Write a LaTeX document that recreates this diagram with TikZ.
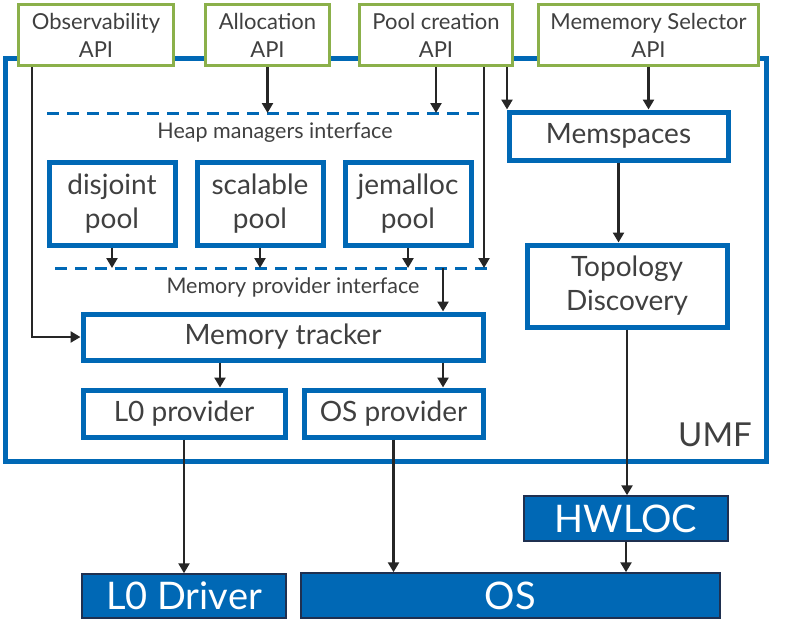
\documentclass[tikz,border=0pt]{standalone}
\usepackage{fontspec}
\setmainfont{Lato}
\usetikzlibrary{arrows.meta}
\definecolor{umfblue}{HTML}{0068B5}
\definecolor{apigreen}{HTML}{8BB04A}
\definecolor{txtgray}{HTML}{404040}
\definecolor{arrowcol}{HTML}{262626}
\definecolor{navyedge}{HTML}{1F3050}
\begin{document}
\begin{tikzpicture}[x=1pt,y=-1pt,
  bluebox/.style={draw=umfblue, line width=5pt, fill=white, text=txtgray, font=\fontsize{28}{34}\selectfont, align=center, inner sep=0pt},
  apibox/.style={draw=apigreen, line width=3.5pt, fill=white, text=txtgray, font=\fontsize{22}{28}\selectfont, align=center, inner sep=0pt},
  solidbox/.style={draw=navyedge, line width=1.5pt, fill=umfblue, text=white, font=\fontsize{38}{40}\selectfont, inner sep=0pt},
  arrow/.style={draw=arrowcol, line width=2.5pt, -{Triangle[length=10pt,width=11pt]}},
  iface/.style={draw=umfblue, line width=3pt, dash pattern=on 12pt off 8pt},
  lbl/.style={text=txtgray, font=\fontsize{21.5}{24}\selectfont, inner sep=0pt}]
\useasboundingbox (0,0) rectangle (805,642);
% UMF container
\node[draw=umfblue, line width=5pt, minimum width=761pt, minimum height=402pt, inner sep=0pt] (umf) at (385.5,260) {};
\node[lbl, font=\fontsize{33}{33}\selectfont, anchor=east] (umflab) at (752,435) {UMF};
% interface lines
\coordinate (hl) at (47,113); \coordinate (hr) at (480,113);
\coordinate (pl) at (55,268); \coordinate (pr) at (487,268);
\draw[iface] (hl) -- (hr);
\draw[iface] (pl) -- (pr);
\node[lbl] (hlab) at (275,133) {Heap managers interface};
\node[lbl] (plab) at (293,287) {Memory provider interface};
% column coordinates
\coordinate (cObs) at (32,0);
\coordinate (cPoolB) at (484,0);
\coordinate (cPoolC) at (507,0);
\coordinate (cTa) at (220,0);
\coordinate (cTb) at (443,0);
% API boxes
\node[apibox, minimum width=155pt, minimum height=61pt] (obs) at (96,35) {Observability\\API};
\node[apibox, minimum width=124pt, minimum height=61pt] (alloc) at (267.5,35) {Allocation\\API};
\node[apibox, minimum width=153pt, minimum height=61pt] (pool) at (436,35) {Pool creation\\API};
\node[apibox, minimum width=220pt, minimum height=61pt] (memsel) at (648.5,35) {Mememory Selector\\API};
% pools
\node[bluebox, minimum width=126pt, minimum height=83pt] (disjoint) at (112,203.5) {disjoint\\pool};
\node[bluebox, minimum width=126pt, minimum height=83pt] (scalable) at (260,203.5) {scalable\\pool};
\node[bluebox, minimum width=126pt, minimum height=83pt] (jemalloc) at (408,203.5) {jemalloc\\pool};
% tracker and providers
\node[bluebox, minimum width=400pt, minimum height=46pt] (tracker) at (283,337) {Memory tracker};
\node[bluebox, minimum width=202pt, minimum height=47pt] (l0p) at (184,413.5) {L0 provider};
\node[bluebox, minimum width=179pt, minimum height=47pt] (osp) at (393.5,413.5) {OS provider};
% right column
\node[bluebox, minimum width=219pt, minimum height=48pt] (memsp) at (618.5,136) {Memspaces};
\node[bluebox, minimum width=200pt, minimum height=82pt] (topo) at (627,286) {Topology\\Discovery};
% outside
\node[solidbox, minimum width=204pt, minimum height=45pt] (hwloc) at (626,518.5) {HWLOC};
\node[solidbox, minimum width=204pt, minimum height=44pt] (l0d) at (184,596) {L0 Driver};
\node[solidbox, minimum width=419pt, minimum height=45pt] (os) at (510.5,595.5) {OS};
% arrows
\draw[arrow] (cObs |- obs.south) |- (tracker.west);
\draw[arrow] (alloc.south) -- (alloc.south |- hl);
\draw[arrow] (pool.south) -- (pool.south |- hl);
\draw[arrow] (cPoolB |- pool.south) -- (cPoolB |- pl);
\draw[arrow] (cPoolC |- pool.south) -- (cPoolC |- memsp.north);
\draw[arrow] (memsel.south) -- (memsel.south |- memsp.north);
\draw[arrow] (disjoint.south) -- (disjoint.south |- pl);
\draw[arrow] (scalable.south) -- (scalable.south |- pl);
\draw[arrow] (jemalloc.south) -- (jemalloc.south |- pl);
\draw[arrow] (cTb |- pl) -- (cTb |- tracker.north);
\draw[arrow] (cTa |- tracker.south) -- (cTa |- l0p.north);
\draw[arrow] (cTb |- tracker.south) -- (cTb |- osp.north);
\draw[arrow] (l0p.south) -- (l0d.north);
\draw[arrow] (osp.south) -- (osp.south |- os.north);
\draw[arrow] (memsp.south) -- (memsp.south |- topo.north);
\draw[arrow] (topo.south) -- (topo.south |- hwloc.north);
\draw[arrow] (hwloc.south) -- (hwloc.south |- os.north);
\end{tikzpicture}
\end{document}
